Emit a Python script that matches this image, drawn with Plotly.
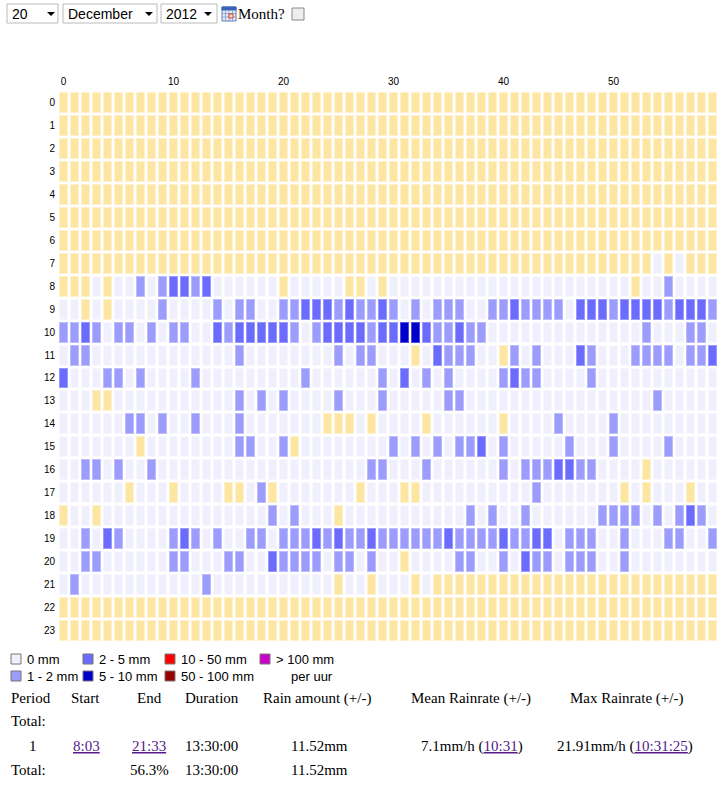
import plotly.graph_objects as go

W, H = 723, 791

hours = list(range(24))
minutes = list(range(60))
minute_ticks = [0, 10, 20, 30, 40, 50]

# one string per hour, one character per minute (groups of ten)
# n = no data, 0 = 0 mm, 1 = 1-2 mm, 2 = 2-5 mm, 3 = 5-10 mm
rain_rows = [
    "nnnnnnnnnn nnnnnnnnnn nnnnnnnnnn nnnnnnnnnn nnnnnnnnnn nnnnnnnnnn",  # 0
    "nnnnnnnnnn nnnnnnnnnn nnnnnnnnnn nnnnnnnnnn nnnnnnnnnn nnnnnnnnnn",  # 1
    "nnnnnnnnnn nnnnnnnnnn nnnnnnnnnn nnnnnnnnnn nnnnnnnnnn nnnnnnnnnn",  # 2
    "nnnnnnnnnn nnnnnnnnnn nnnnnnnnnn nnnnnnnnnn nnnnnnnnnn nnnnnnnnnn",  # 3
    "nnnnnnnnnn nnnnnnnnnn nnnnnnnnnn nnnnnnnnnn nnnnnnnnnn nnnnnnnnnn",  # 4
    "nnnnnnnnnn nnnnnnnnnn nnnnnnnnnn nnnnnnnnnn nnnnnnnnnn nnnnnnnnnn",  # 5
    "nnnnnnnnnn nnnnnnnnnn nnnnnnnnnn nnnnnnnnnn nnnnnnnnnn nnnnnnnnnn",  # 6
    "nnnnnnnnnn nnnnnnnnnn nnnnnnnnnn nnnnnnnnnn nnnnnnnnnn nnnn0n0nnn",  # 7
    "nnn0n00101 2212000000 n00000nn0n 0000000000 0000000000 00n0010000",  # 8
    "00n0n00001 0000101100 1122212112 1010111001 1211110222 1222212221",  # 9
    "1121011010 1100212222 2101222212 2332112110 0000000000 0001000110",  # 10
    "0110000000 0000001000 0000010110 00n0211100 n101000210 0011110112",  # 11
    "2000110100 0010000000 0010000001 0201010000 1211000010 0000000000",  # 12
    "000nn00000 0000001010 1000010001 0000011000 0000000000 0000100000",  # 13
    "0000001101 0010001000 0000nnn0n0 000n000000 n000010000 1000000000",  # 14
    "0000000n00 0000001100 1n00000000 1010101120 1000001000 1000010000",  # 15
    "0011010010 0000000000 0000000011 0001000000 1011122110 000n000000",  # 16
    "000000n000 n0000nn01n 0000000n00 0nn0000000 0001000000 0n0n000n00",  # 17
    "n00n000000 0000000001 01000n0000 0000000101 0010000001 1110101210",  # 18
    "0010210000 1210100110 1112121121 1111121111 2112201110 0100011001",  # 19
    "0011000000 1100011002 1111011010 0n00001100 1021101110 0100000000",  # 20
    "0100000000 0001000000 00000n00n0 00n0nnnnnn nnnnnnnnnn nnnnnnnnnn",  # 21
    "nnnnnnnnnn nnnnnnnnnn nnnnnnnnnn nnnnnnnnnn nnnnnnnnnn nnnnnnnnnn",  # 22
    "nnnnnnnnnn nnnnnnnnnn nnnnnnnnnn nnnnnnnnnn nnnnnnnnnn nnnnnnnnnn",  # 23
]
classes = ["n", "0", "1", "2", "3"]
fill_colors = ["#FCE6A2", "#EFEFFD", "#9C9CFD", "#6B6BFD", "#0000CC"]
edge_colors = ["#FEF1CC", "#F8F8FE", "#BDBDFE", "#9A9AFE", "#5050DD"]

legend_labels = ["0 mm", "1 - 2 mm", "2 - 5 mm", "5 - 10 mm",
                 "10 - 50 mm", "50 - 100 mm", "> 100 mm"]
legend_colors = ["#EFEFFD", "#9C9CFD", "#6B6BFD", "#0000CC",
                 "#FF0000", "#990000", "#CC00CC"]

table_header = ["Period", "Start", "End", "Duration", "Rain amount (+/-)",
                "Mean Rainrate (+/-)", "Max Rainrate (+/-)"]
period_no = "1"
period_start = "8:03"
period_end = "21:33"
period_duration = "13:30:00"
period_amount = "11.52mm"
mean_rate, mean_time = "7.1mm/h", "10:31"
max_rate, max_time = "21.91mm/h", "10:31:25"
total_pct = "56.3%"

z = [[classes.index(c) for c in row.replace(" ", "")] for row in rain_rows]


def steps(cols):
    n = len(cols)
    out = []
    for i, c in enumerate(cols):
        out += [[i / n, c], [(i + 1) / n, c]]
    return out


def X(px):
    return px / W


def Y(py):
    return 1 - py / H


fig = go.Figure()
for cols, gap in [(edge_colors, 2), (fill_colors, 4)]:
    fig.add_trace(go.Heatmap(
        z=z, x=minutes, y=hours, colorscale=steps(cols),
        zmin=-0.5, zmax=4.5, xgap=gap, ygap=gap,
        showscale=False, hoverinfo="skip"))

shapes = []
annos = []
sans = "Liberation Sans, Arial, sans-serif"
serif = "Liberation Serif, Times New Roman, serif"


def rect(x0, y0, x1, y1, fill, line="#BBBBBB", lw=1):
    shapes.append(dict(type="rect", xref="paper", yref="paper",
                       x0=X(x0), x1=X(x1), y0=Y(y1), y1=Y(y0),
                       fillcolor=fill, line=dict(color=line, width=lw)))


def text(x, y, s, size=15, family=serif, color="black"):
    annos.append(dict(xref="paper", yref="paper", x=X(x), y=Y(y), text=s,
                      showarrow=False, xanchor="left", yanchor="middle",
                      borderpad=0, font=dict(size=size, family=family,
                                             color=color)))


def arrow(cx, cy):
    shapes.append(dict(type="path", xref="paper", yref="paper",
                       path="M %f,%f L %f,%f L %f,%f Z" % (
                           X(cx - 4), Y(cy - 2), X(cx + 4), Y(cy - 2),
                           X(cx), Y(cy + 2)),
                       fillcolor="black", line=dict(width=0)))


# top form controls
rect(7, 4, 58, 23, "white")
text(11, 14, "20", 14, sans)
arrow(51, 14)
rect(63, 4, 157, 23, "white")
text(67, 14, "December", 14, sans)
arrow(149, 14)
rect(161, 4, 217, 23, "white")
text(165, 14, "2012", 14, sans)
arrow(208, 14)
# calendar icon
rect(222, 7, 236, 21, "#E6ECF6", "#5A78B0")
rect(222, 7, 236, 10, "#3A62B8", "#3A62B8")
for gx in [225.5, 229, 232.5]:
    shapes.append(dict(type="line", xref="paper", yref="paper",
                       x0=X(gx), x1=X(gx), y0=Y(10), y1=Y(21),
                       line=dict(color="#8FA6CF", width=1)))
for gy in [13.5, 17]:
    shapes.append(dict(type="line", xref="paper", yref="paper",
                       x0=X(222), x1=X(236), y0=Y(gy), y1=Y(gy),
                       line=dict(color="#8FA6CF", width=1)))
rect(229, 14, 233, 18, "#F4E0D0", "#E04020")
text(237, 14, "Month?", 15, serif)
rect(292, 8, 304, 20, "#EEEEEE", "#8A8A8A")

# legend
leg_pos = [(11, 659), (11, 676), (83, 659), (83, 676),
           (165, 659), (165, 676), (260, 659)]
for (lx, ly), lab, col in zip(leg_pos, legend_labels, legend_colors):
    rect(lx, ly - 5, lx + 10, ly + 5, col, "#777777")
    text(lx + 15, ly, lab, 13, sans)
text(290, 676, "per uur", 13, sans)

# summary table
link = "#551A8B"
for hx, lab in zip([10, 70, 136, 184, 262, 410, 569], table_header):
    text(hx, 698, lab)
text(10, 721, "Total:")
text(28, 746, period_no)
text(72, 746, "<u>%s</u>" % period_start, color=link)
text(131, 746, "<u>%s</u>" % period_end, color=link)
text(184, 746, period_duration)
text(290, 746, period_amount)
text(420, 746, '%s (<span style="color:%s"><u>%s</u></span>)'
     % (mean_rate, link, mean_time))
text(556, 746, '%s (<span style="color:%s"><u>%s</u></span>)'
     % (max_rate, link, max_time))
text(10, 770, "Total:")
text(129, 770, total_pct)
text(184, 770, period_duration)
text(290, 770, period_amount)

fig.update_layout(
    width=W, height=H, margin=dict(l=0, r=0, t=0, b=0),
    paper_bgcolor="white", plot_bgcolor="white",
    showlegend=False, shapes=shapes, annotations=annos,
    xaxis=dict(domain=[X(58), X(718)], range=[-0.5, 59.5], side="top",
               tickvals=minute_ticks, showgrid=False, zeroline=False,
               ticks="", ticklabelstandoff=3,
               tickfont=dict(size=10, family=sans, color="black"),
               fixedrange=True),
    yaxis=dict(domain=[Y(642), Y(91)], range=[23.5, -0.5],
               tickvals=hours, showgrid=False, zeroline=False,
               ticks="", ticklabelstandoff=2,
               tickfont=dict(size=10, family=sans, color="black"),
               fixedrange=True),
)

# the page body has a default 8px margin; drop it so the figure fills the window
fig.write_html("out.html", config={"displayModeBar": False},
               post_script="document.body.style.margin='0px';")
